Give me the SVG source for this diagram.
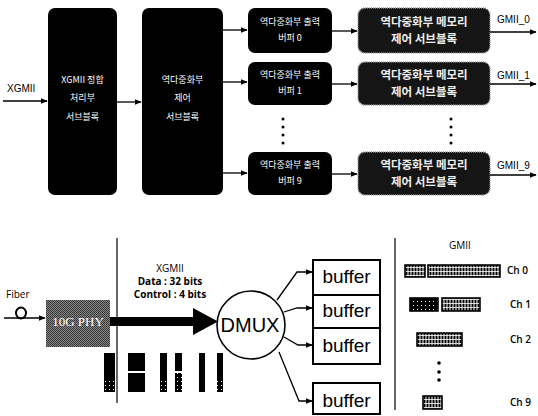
<svg xmlns="http://www.w3.org/2000/svg" width="538" height="416" viewBox="0 0 538 416">
<defs>
<marker id="ah" viewBox="0 0 10 10" refX="9" refY="5" markerWidth="7" markerHeight="7" orient="auto" markerUnits="userSpaceOnUse">
<path d="M0,1 L10,5 L0,9 Z" fill="#000"/>
</marker>
<pattern id="stripe" width="3" height="4" patternUnits="userSpaceOnUse">
<rect width="3" height="4" fill="#fff"/>
<rect x="0.5" y="0" width="2" height="3.2" fill="#000"/>
</pattern>
<pattern id="speck" width="4" height="4" patternUnits="userSpaceOnUse">
<rect width="4" height="4" fill="#000"/>
<rect x="1" y="1" width="1" height="1" fill="#fff"/>
</pattern>
<pattern id="dither" width="2" height="2" patternUnits="userSpaceOnUse">
<rect width="2" height="2" fill="#8a8a8a"/>
<rect width="1" height="1" fill="#2e2e2e"/>
<rect x="1" y="1" width="1" height="1" fill="#3a3a3a"/>
</pattern>
</defs>
<style>
.blk{fill:#000;}
.blk4{fill:#151515;stroke:#9a9a9a;stroke-width:1.5;stroke-dasharray:1 1;}
.kr{font-family:"Noto Sans CJK KR","Noto Sans",sans-serif;font-size:9px;fill:#fff;text-anchor:middle;}
.kr4{font-family:"Noto Sans CJK KR","Noto Sans",sans-serif;font-size:11.5px;font-weight:bold;fill:#eee;text-anchor:middle;}
.lbl{font-family:"Liberation Sans",Arial,sans-serif;font-size:10px;fill:#000;}
.sm{font-family:"Open Sans","Liberation Sans",sans-serif;font-size:10px;fill:#000;}
.ch{font-family:"Open Sans","Liberation Sans",sans-serif;font-size:10px;font-weight:600;fill:#000;}
.ln{stroke:#000;stroke-width:1.3;fill:none;}
.buf{fill:#fff;stroke:#000;stroke-width:2;}
.buft{font-family:"Liberation Sans",Arial,sans-serif;font-size:19px;fill:#000;text-anchor:middle;}
.gb{stroke:#000;stroke-width:1.6;fill:url(#stripe);}
</style>

<!-- Top diagram -->
<g id="box1">
<rect class="blk" x="48" y="8" width="69" height="187" rx="7"/>
<text class="kr" x="82.5" y="83">XGMII 정합</text>
<text class="kr" x="82.5" y="101">처리부</text>
<text class="kr" x="82.5" y="120">서브블록</text>
</g>
<g id="box2">
<rect class="blk" x="142" y="8" width="81" height="187" rx="7"/>
<text class="kr" x="182.5" y="83">역다중화부</text>
<text class="kr" x="182.5" y="101">제어</text>
<text class="kr" x="182.5" y="120">서브블록</text>
</g>
<g id="buf0">
<rect class="blk" x="248" y="8" width="84" height="45" rx="7"/>
<text class="kr" x="290" y="25">역다중화부 출력</text>
<text class="kr" x="290" y="41">버퍼 0</text>
</g>
<g id="buf1">
<rect class="blk" x="248" y="62" width="84" height="43" rx="7"/>
<text class="kr" x="290" y="78">역다중화부 출력</text>
<text class="kr" x="290" y="94">버퍼 1</text>
</g>
<g id="buf9">
<rect class="blk" x="248" y="152" width="84" height="43" rx="7"/>
<text class="kr" x="290" y="168">역다중화부 출력</text>
<text class="kr" x="290" y="184">버퍼 9</text>
</g>
<g id="mem0">
<rect class="blk4" x="358" y="8" width="132" height="45" rx="7"/>
<text class="kr4" x="424" y="26">역다중화부 메모리</text>
<text class="kr4" x="424" y="43">제어 서브블록</text>
</g>
<g id="mem1">
<rect class="blk4" x="358" y="62" width="132" height="43" rx="7"/>
<text class="kr4" x="424" y="79">역다중화부 메모리</text>
<text class="kr4" x="424" y="96">제어 서브블록</text>
</g>
<g id="mem9">
<rect class="blk4" x="358" y="152" width="132" height="43" rx="7"/>
<text class="kr4" x="424" y="169">역다중화부 메모리</text>
<text class="kr4" x="424" y="186">제어 서브블록</text>
</g>
<g id="dots-top">
<circle cx="283" cy="119" r="1.5"/><circle cx="283" cy="127" r="1.5"/><circle cx="283" cy="135" r="1.5"/><circle cx="283" cy="143" r="1.5"/>
<circle cx="451" cy="119" r="1.5"/><circle cx="451" cy="127" r="1.5"/><circle cx="451" cy="135" r="1.5"/><circle cx="451" cy="143" r="1.5"/>
</g>
<g id="top-labels">
<text class="lbl" x="7" y="92">XGMII</text>
<text class="lbl" x="497" y="23">GMII_0</text>
<text class="lbl" x="497" y="79">GMII_1</text>
<text class="lbl" x="497" y="169">GMII_9</text>
</g>
<g id="top-connectors">
<line class="ln" x1="3" y1="101" x2="47" y2="101" marker-end="url(#ah)"/>
<line class="ln" x1="117" y1="102" x2="141" y2="102" marker-end="url(#ah)"/>
<line class="ln" x1="223" y1="30" x2="247" y2="30" marker-end="url(#ah)"/>
<line class="ln" x1="223" y1="82" x2="247" y2="82" marker-end="url(#ah)"/>
<line class="ln" x1="223" y1="173" x2="247" y2="173" marker-end="url(#ah)"/>
<line class="ln" x1="332" y1="31" x2="357" y2="31" marker-end="url(#ah)"/>
<line class="ln" x1="332" y1="84" x2="357" y2="84" marker-end="url(#ah)"/>
<line class="ln" x1="332" y1="174" x2="357" y2="174" marker-end="url(#ah)"/>
<line class="ln" x1="490" y1="32" x2="536" y2="32" marker-end="url(#ah)"/>
<line class="ln" x1="490" y1="84" x2="536" y2="84" marker-end="url(#ah)"/>
<line class="ln" x1="490" y1="175" x2="536" y2="175" marker-end="url(#ah)"/>
</g>

<!-- Bottom diagram -->
<g id="dividers">
<line x1="117" y1="238" x2="117" y2="403" stroke="#000" stroke-width="1.2"/>
<line x1="395" y1="238" x2="395" y2="410" stroke="#000" stroke-width="1.2"/>
</g>
<g id="fiber">
<text class="sm" x="6" y="298">Fiber</text>
<ellipse cx="21" cy="313" rx="5" ry="5.5" fill="none" stroke="#000" stroke-width="2"/>
<line class="ln" x1="4" y1="318" x2="45" y2="318" stroke-width="1.8" marker-end="url(#ah)"/>
</g>
<g id="phy">
<rect x="46" y="300" width="64" height="47" fill="url(#dither)"/>
<text x="78" y="326" font-family="Liberation Serif,serif" font-size="13" fill="#fff" text-anchor="middle">10G PHY</text>
</g>
<g id="xgmii-bus">
<rect x="110" y="317" width="85" height="9" fill="#000"/>
<polygon points="193,308 218,321.5 193,335" fill="#000"/>
<text class="sm" x="170" y="272" text-anchor="middle" font-size="11">XGMII</text>
<text class="sm" x="170" y="285" text-anchor="middle" font-weight="bold" font-size="9.5">Data : 32 bits</text>
<text class="sm" x="170" y="298" text-anchor="middle" font-weight="bold" font-size="9.5">Control : 4 bits</text>
</g>
<g id="databars">
<rect x="104" y="353" width="11" height="28" fill="#000"/>
<rect x="104" y="381" width="11" height="11" fill="url(#speck)"/>
<rect x="128" y="353" width="17" height="18" fill="#000"/>
<rect x="128" y="373" width="17" height="19" fill="#000"/>
<rect x="160" y="353" width="7" height="27" fill="#000"/>
<rect x="160" y="380" width="7" height="12" fill="url(#speck)"/>
<rect x="175" y="353" width="7" height="18" fill="#000"/>
<rect x="175" y="373" width="7" height="19" fill="url(#speck)"/>
<rect x="199" y="353" width="6" height="39" fill="#000"/>
<rect x="217" y="353" width="6" height="27" fill="#000"/>
<rect x="217" y="380" width="6" height="12" fill="url(#speck)"/>
</g>
<g id="dmux">
<circle cx="251" cy="325" r="34" fill="#fff" stroke="#000" stroke-width="1.6"/>
<text x="250" y="332" font-family="Liberation Sans,Arial,sans-serif" font-size="20" text-anchor="middle">DMUX</text>
</g>
<g id="buffer0"><rect class="buf" x="313" y="260" width="67" height="35"/><text class="buft" x="346.5" y="283">buffer</text></g>
<g id="buffer1"><rect class="buf" x="313" y="295" width="67" height="33"/><text class="buft" x="346.5" y="317">buffer</text></g>
<g id="buffer2"><rect class="buf" x="313" y="328" width="67" height="36"/><text class="buft" x="346.5" y="352">buffer</text></g>
<g id="buffer9"><rect class="buf" x="313" y="383" width="67" height="31"/><text class="buft" x="346.5" y="407">buffer</text></g>
<g id="dmux-connectors">
<path class="ln" d="M277,300 L297,272 L312,272" marker-end="url(#ah)"/>
<path class="ln" d="M284,312 L297,308 L312,308" marker-end="url(#ah)"/>
<path class="ln" d="M284,337 L298,345 L312,345" marker-end="url(#ah)"/>
<path class="ln" d="M279,352 L299,401 L312,401" marker-end="url(#ah)"/>
</g>
<g id="gmii">
<text class="sm" x="460" y="249" text-anchor="middle">GMII</text>
<rect class="gb" x="405" y="265" width="20" height="12"/>
<rect class="gb" x="428" y="265" width="72" height="12"/>
<text class="ch" x="507" y="274">Ch 0</text>
<rect x="410" y="298" width="28" height="13" fill="url(#speck)" stroke="#000" stroke-width="1.6"/>
<rect class="gb" x="442" y="298" width="38" height="13"/>
<text class="ch" x="510" y="308">Ch 1</text>
<rect class="gb" x="417" y="333" width="45" height="13"/>
<text class="ch" x="510" y="343">Ch 2</text>
<circle cx="439" cy="363" r="1.8"/><circle cx="439" cy="372" r="1.8"/><circle cx="439" cy="380" r="1.8"/>
<rect class="gb" x="423" y="396" width="19" height="13"/>
<text class="ch" x="510" y="406">Ch 9</text>
</g>
</svg>
